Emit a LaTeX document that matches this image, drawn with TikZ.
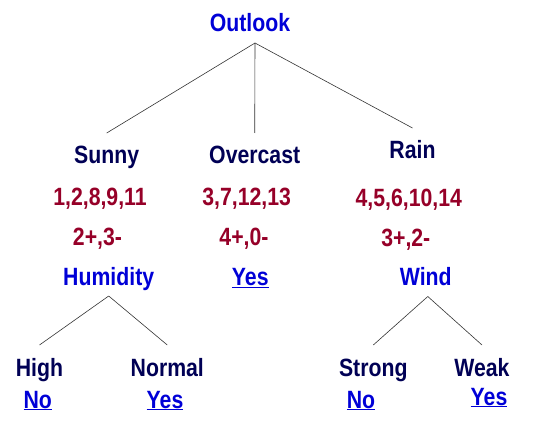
\documentclass[tikz,border=0pt]{standalone}
\usepackage{fontspec}
\setmainfont{Liberation Sans}[FakeStretch=0.85]
\definecolor{attrblue}{RGB}{0,0,215}
\definecolor{valnavy}{RGB}{0,0,85}
\definecolor{setred}{RGB}{150,0,40}
\tikzset{
    tnode/.style={anchor=base, inner sep=0pt, font=\fontsize{25}{30}\selectfont\bfseries},
    attr/.style={tnode, text=attrblue},
    val/.style={tnode, text=valnavy},
    cnt/.style={tnode, text=setred},
    leaf/.style={tnode, text=attrblue},
    branch/.style={black!80, line width=0.6pt}
}
\begin{document}
\begin{tikzpicture}[x=1pt, y=1pt]
    \useasboundingbox (0,0) rectangle (533,-425);
    % root
    \node[attr] (outlook) at (250,-32) {Outlook};
    % first level
    \node[val] (sunny) at (106.7,-164) {Sunny};
    \node[val] (overcast) at (254.7,-164) {Overcast};
    \node[val] (rain) at (412.5,-159) {Rain};
    \node[cnt] (sunnyset) at (100,-205) {1,2,8,9,11};
    \node[cnt] (overcastset) at (246.7,-205) {3,7,12,13};
    \node[cnt] (rainset) at (408.8,-206.5) {4,5,6,10,14};
    \node[cnt] (sunnycnt) at (97.5,-245) {2+,3-};
    \node[cnt] (overcastcnt) at (244,-245) {4+,0-};
    \node[cnt] (raincnt) at (405.8,-246) {3+,2-};
    \node[attr] (humidity) at (108.7,-285.5) {Humidity};
    \node[leaf] (overcastyes) at (250.3,-285.5) {\underline{Yes}};
    \node[attr] (wind) at (425.8,-285.5) {Wind};
    % second level
    \node[val] (high) at (39.5,-376) {High};
    \node[val] (normal) at (167.3,-376) {Normal};
    \node[val] (strong) at (373.3,-376) {Strong};
    \node[val] (weak) at (482,-376) {Weak};
    \node[leaf] (highno) at (37.8,-408) {\underline{No}};
    \node[leaf] (normalyes) at (165,-408) {\underline{Yes}};
    \node[leaf] (strongno) at (361,-408) {\underline{No}};
    \node[leaf] (weakyes) at (489,-405) {\underline{Yes}};
    % branches
    \draw[branch] ([xshift=5pt,yshift=-11pt]outlook.base) -- ([yshift=31pt]sunny.base);
    \draw[branch] ([xshift=5pt,yshift=-11pt]outlook.base) -- ([yshift=31pt]overcast.base);
    \draw[branch] ([xshift=5pt,yshift=-11pt]outlook.base) -- ([yshift=31pt]rain.base);
    \draw[branch] ([yshift=-10.5pt]humidity.base) -- ([yshift=31pt]high.base);
    \draw[branch] ([yshift=-10.5pt]humidity.base) -- ([yshift=31pt]normal.base);
    \draw[branch] ([xshift=2pt,yshift=-11pt]wind.base) -- ([yshift=31pt]strong.base);
    \draw[branch] ([xshift=2pt,yshift=-11pt]wind.base) -- ([yshift=31pt]weak.base);
\end{tikzpicture}
\end{document}
